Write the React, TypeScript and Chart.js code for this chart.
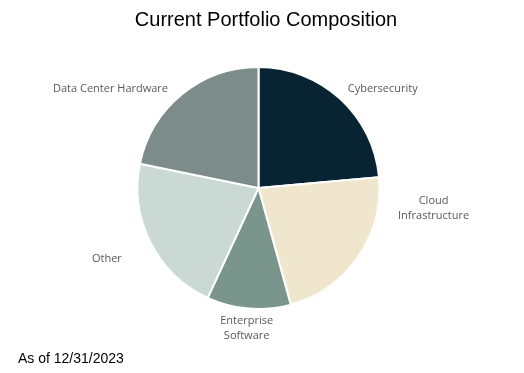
import React, { useEffect, useRef } from "react";
import { Chart, registerables } from "chart.js";

Chart.register(...registerables);

const categories = [
  "Cybersecurity",
  "Cloud Infrastructure",
  "Enterprise Software",
  "Other",
  "Data Center Hardware",
];
const allocation = [23.6, 22.1, 11.2, 21.3, 21.8];
const labelLines = [
  ["Cybersecurity"],
  ["Cloud", "Infrastructure"],
  ["Enterprise", "Software"],
  ["Other"],
  ["Data Center Hardware"],
];
const titleText = "Current Portfolio Composition";
const footnoteText = "As of 12/31/2023";

const sliceColors = ["#082433", "#EFE6CD", "#7A958B", "#CAD9D3", "#7B8C8A"];
// label centre offsets, in units of pie radius, relative to pie centre
const labelOffsets = [
  [1.027, -0.82],
  [1.447, 0.165],
  [-0.098, 1.16],
  [-1.253, 0.585],
  [-1.223, -0.82],
];

const labelPlugin = {
  id: "outsideLabels",
  afterDraw(chart: any) {
    const meta = chart.getDatasetMeta(0);
    if (!meta.data.length) return;
    const arc: any = meta.data[0];
    const cx = arc.x;
    const cy = arc.y;
    const r = arc.outerRadius;
    const ctx = chart.ctx;
    ctx.save();
    ctx.font = "11px 'Open Sans'";
    ctx.fillStyle = "#595959";
    ctx.textAlign = "center";
    ctx.textBaseline = "middle";
    const lh = 15;
    labelLines.forEach((lines, i) => {
      const x = cx + labelOffsets[i][0] * r;
      const y = cy + labelOffsets[i][1] * r;
      const y0 = y - ((lines.length - 1) * lh) / 2;
      lines.forEach((t, j) => ctx.fillText(t, x, y0 + j * lh));
    });
    // title
    ctx.font = "20px 'Liberation Sans', Arial";
    ctx.fillStyle = "#000000";
    ctx.textAlign = "center";
    ctx.textBaseline = "middle";
    ctx.fillText(titleText, chart.width / 2 + 4, 20);
    // footnote
    ctx.font = "14px 'Liberation Sans', Arial";
    ctx.textAlign = "left";
    ctx.textBaseline = "alphabetic";
    ctx.fillText(footnoteText, 18, chart.height - 10);
    ctx.restore();
  },
};

export default function App() {
  const ref = useRef<HTMLCanvasElement>(null);
  useEffect(() => {
    if (!ref.current) return;
    const chart = new Chart(ref.current, {
      type: "pie",
      data: {
        labels: categories,
        datasets: [
          {
            data: allocation,
            backgroundColor: sliceColors,
            borderColor: "#ffffff",
            borderWidth: 2,
          },
        ],
      },
      options: {
        animation: false,
        responsive: true,
        maintainAspectRatio: false,
        layout: { padding: { top: 66, bottom: 63, left: 0, right: 7 } },
        plugins: {
          legend: { display: false },
          tooltip: { enabled: false },
          title: { display: false },
        },
      },
      plugins: [labelPlugin],
    });
    return () => chart.destroy();
  }, []);
  return (
    <div style={{ position: "absolute", left: 0, top: 0, width: 524, height: 373, background: "#fff" }}>
      <canvas ref={ref} />
    </div>
  );
}
